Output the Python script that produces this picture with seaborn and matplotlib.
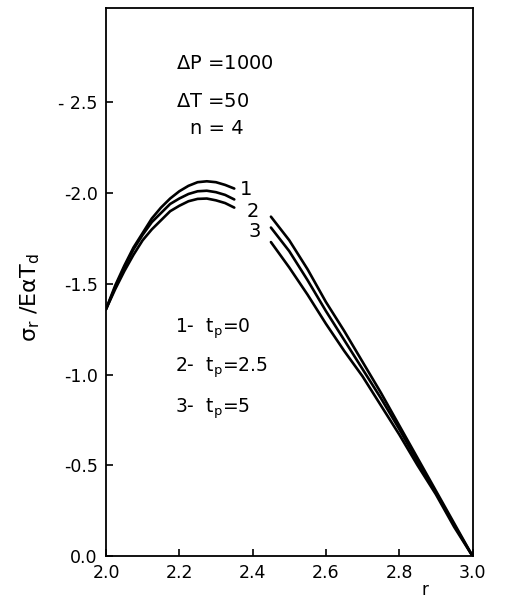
import numpy as np
import pandas as pd
import matplotlib
matplotlib.use("Agg")
import matplotlib.pyplot as plt
import seaborn as sns

# ---- data (sigma_r / E alpha T_d, plotted as negative values) ----
r_left = [2.0, 2.025, 2.05, 2.075, 2.1, 2.125, 2.15, 2.175, 2.2, 2.225,
          2.25, 2.275, 2.3, 2.325, 2.35]
r_right = [2.45, 2.5, 2.55, 2.6, 2.65, 2.7, 2.75, 2.8, 2.85, 2.9, 2.95, 3.0]

curve1_left = [-1.36, -1.49, -1.60, -1.70, -1.78, -1.86, -1.92, -1.97, -2.01, -2.04,
               -2.06, -2.065, -2.06, -2.045, -2.025]
curve2_left = [-1.36, -1.48, -1.59, -1.69, -1.77, -1.84, -1.89, -1.94, -1.97, -1.995,
               -2.01, -2.013, -2.005, -1.99, -1.965]
curve3_left = [-1.36, -1.47, -1.57, -1.66, -1.74, -1.80, -1.85, -1.90, -1.93, -1.955,
               -1.968, -1.97, -1.96, -1.945, -1.92]

curve1_right = [-1.87, -1.74, -1.58, -1.40, -1.24, -1.07, -0.90, -0.72, -0.54, -0.36, -0.18, 0.0]
curve2_right = [-1.81, -1.68, -1.52, -1.35, -1.19, -1.03, -0.87, -0.70, -0.52, -0.35, -0.17, 0.0]
curve3_right = [-1.73, -1.59, -1.44, -1.28, -1.13, -0.99, -0.83, -0.67, -0.50, -0.34, -0.16, 0.0]

curve_names = ["1", "2", "3"]
legend_labels = [r"1-  t$_p$=0", r"2-  t$_p$=2.5", r"3-  t$_p$=5"]
param_labels = [r"$\Delta$P =1000", r"$\Delta$T =50", "n = 4"]

x_ticks = [2.0, 2.2, 2.4, 2.6, 2.8, 3.0]
x_tick_labels = ["2.0", "2.2", "2.4", "2.6", "2.8", "3.0"]
y_ticks = [0.0, -0.5, -1.0, -1.5, -2.0, -2.5]
y_tick_labels = ["0.0", "-0.5", "-1.0", "-1.5", "-2.0", "- 2.5"]

# ---- build long table ----
rows = []
segs = {
    "1": (curve1_left, curve1_right),
    "2": (curve2_left, curve2_right),
    "3": (curve3_left, curve3_right),
}
for name in curve_names:
    left, right = segs[name]
    for r, s in zip(r_left, left):
        rows.append({"curve": name, "unit": name + "a", "r": r, "sigma": s})
    for r, s in zip(r_right, right):
        rows.append({"curve": name, "unit": name + "b", "r": r, "sigma": s})
df = pd.DataFrame(rows)

# ---- style ----
sns.set_style("ticks")
plt.rcParams["font.family"] = ["DejaVu Sans"]
plt.rcParams["mathtext.default"] = "regular"
plt.rcParams["axes.linewidth"] = 1.3
plt.rcParams["text.color"] = "black"
plt.rcParams["axes.labelcolor"] = "black"
plt.rcParams["xtick.color"] = "black"
plt.rcParams["ytick.color"] = "black"

fig = plt.figure(figsize=(5.08, 6.01), dpi=100)
ax = fig.add_axes([106 / 508, 1 - 556 / 601, 366.5 / 508, 548 / 601])

sns.lineplot(data=df, x="r", y="sigma", units="unit", estimator=None,
             color="black", linewidth=1.9, ax=ax, legend=False, sort=False)

ax.set_xlim(2.0, 3.0)
ax.set_ylim(0.0, -3.02)
ax.set_xticks(x_ticks, labels=x_tick_labels)
ax.set_yticks(y_ticks, labels=y_tick_labels)
ax.tick_params(direction="in", length=5, width=1.2, labelsize=12.5, pad=6,
               colors="black", labelcolor="black")
for sp in ax.spines.values():
    sp.set_visible(True)
    sp.set_color("black")

ax.set_ylabel("")
ax.set_xlabel("r", fontsize=12, color="black")
ax.xaxis.set_label_coords(0.869, -0.045)

# parameters
ax.text(2.19, -2.716, param_labels[0], fontsize=14, ha="left", va="center", color="black")
ax.text(2.19, -2.507, param_labels[1], fontsize=14, ha="left", va="center", color="black")
ax.text(2.229, -2.358, param_labels[2], fontsize=14, ha="left", va="center", color="black")

# curve numbers
ax.text(2.382, -2.02, curve_names[0], fontsize=14, ha="center", va="center", color="black")
ax.text(2.400, -1.90, curve_names[1], fontsize=14, ha="center", va="center", color="black")
ax.text(2.405, -1.79, curve_names[2], fontsize=14, ha="center", va="center", color="black")

# legend text
ax.text(2.188, -1.251, legend_labels[0], fontsize=13.5, ha="left", va="center", color="black")
ax.text(2.188, -1.036, legend_labels[1], fontsize=13.5, ha="left", va="center", color="black")
ax.text(2.188, -0.810, legend_labels[2], fontsize=13.5, ha="left", va="center", color="black")

fig.text(30 / 508, 1 - 298 / 601, r"$\sigma_r$ /E$\alpha$T$_d$", rotation=90,
         fontsize=16, ha="center", va="center", color="black")

fig.savefig("out.png", dpi=100)
